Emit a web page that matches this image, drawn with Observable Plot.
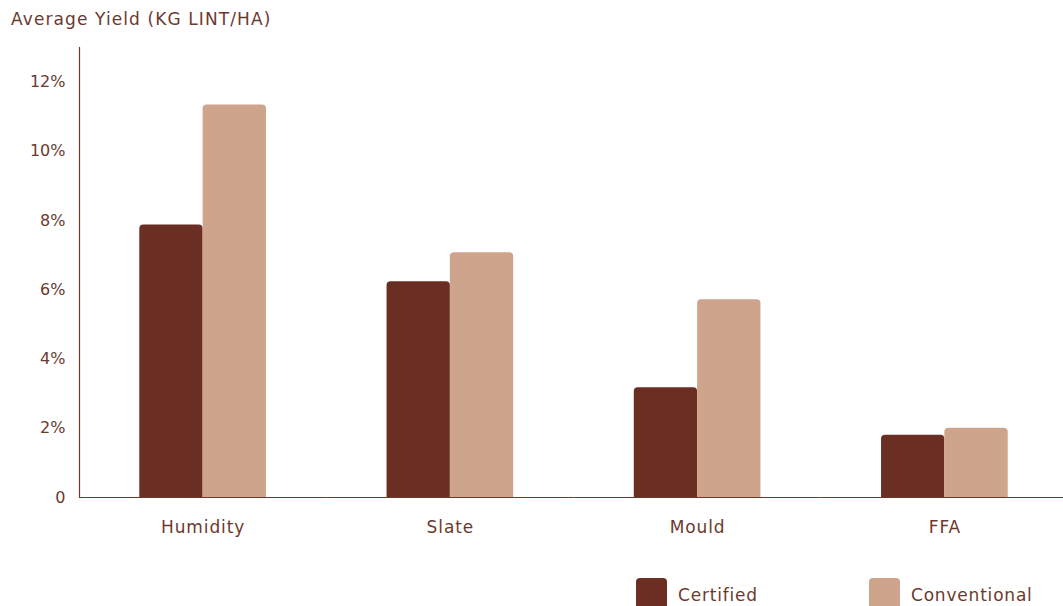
<!DOCTYPE html>
<html>
<head>
<meta charset="utf-8">
<script src="https://cdn.jsdelivr.net/npm/d3@7"></script>
<script src="https://cdn.jsdelivr.net/npm/@observablehq/plot@0.6"></script>
<style>
  body { margin: 0; background: #fff; }
  #wrap { position: relative; width: 1063px; height: 606px; overflow: hidden;
          font-family: "DejaVu Sans", sans-serif; color: #6b3a2e; }
  #title { position: absolute; left: 11px; top: 9px; font-size: 17px; letter-spacing: 1.1px; white-space: nowrap; }
  #legend { position: absolute; left: 636px; top: 578px; display: flex; }
  .item { display: flex; align-items: center; width: 233px; font-size: 17px; letter-spacing: 0.8px; }
  .item span.lbl { padding-top: 3px; }
  .sw { width: 31px; height: 31px; border-radius: 4px; margin-right: 11px; flex: none; }
  #chart { position: absolute; left: 0; top: 0; }
  #chart [aria-label="fx-axis tick label"] text { letter-spacing: 0.9px; }
</style>
</head>
<body>
<div id="wrap">
  <div id="chart"></div>
  <div id="title">Average Yield (KG LINT/HA)</div>
  <div id="legend"></div>
</div>
<script>
// Quality parameters and the two production systems
const categories = ["Humidity", "Slate", "Mould", "FFA"];
const series = ["Certified", "Conventional"];
const certified = [7.87, 6.23, 3.17, 1.8];
const conventional = [11.34, 7.07, 5.71, 2.0];
const yTicks = [0, 2, 4, 6, 8, 10, 12];
const colors = ["#6a2e22", "#cfa48d"];
const ink = "#6b3a2e";

const rows = categories.flatMap((category, i) => [
  {category, series: series[0], value: certified[i]},
  {category, series: series[1], value: conventional[i]}
]);

const chart = Plot.plot({
  width: 1063,
  height: 606,
  marginTop: 47,
  marginBottom: 109,
  marginLeft: 79,
  marginRight: -5,
  style: {fontFamily: "'DejaVu Sans', sans-serif", fontSize: "17px", color: ink, background: "transparent"},
  // contiguous facets, so the baseline runs unbroken across the chart
  fx: {domain: categories, padding: 0, round: false, label: null, axis: null},
  // the pair of bars sits in the middle of each facet
  x: {domain: series, paddingInner: 0, paddingOuter: 0.952, round: false, axis: null},
  y: {domain: [0, 13], axis: null},
  color: {domain: series, range: colors},
  marks: [
    Plot.barY(rows, {fx: "category", x: "series", y: "value", fill: "series", ry1: 4}),
    Plot.ruleY([0], {stroke: ink, strokeWidth: 1.2}),
    Plot.frame({anchor: "left", facetAnchor: "left", stroke: ink, strokeWidth: 1.2}),
    Plot.axisFx({anchor: "bottom", tickSize: 0, tickPadding: 23, label: null, fontSize: 17}),
    Plot.axisY({ticks: yTicks, tickSize: 0, tickPadding: 14, label: null, fontSize: 16,
                tickFormat: d => d === 0 ? "0" : d + "%"})
  ]
});
document.getElementById("chart").append(chart);

// Legend built from the same series and colours
const legend = document.getElementById("legend");
series.forEach((name, i) => {
  const item = document.createElement("div");
  item.className = "item";
  const sw = document.createElement("span");
  sw.className = "sw";
  sw.style.background = colors[i];
  const lbl = document.createElement("span");
  lbl.className = "lbl";
  lbl.textContent = name;
  item.append(sw, lbl);
  legend.append(item);
});
</script>
</body>
</html>
